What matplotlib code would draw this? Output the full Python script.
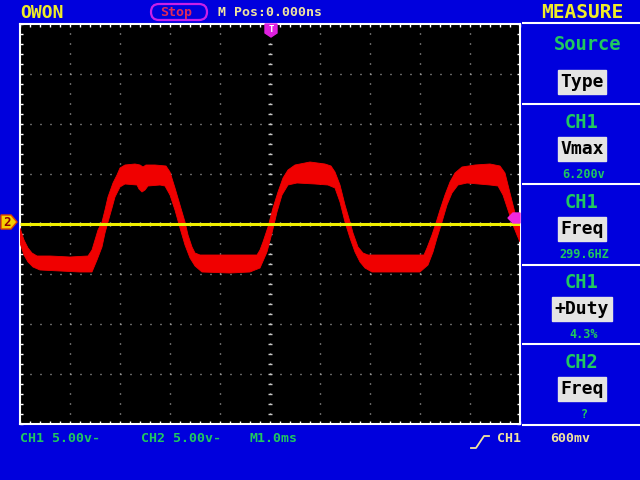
import numpy as np
import matplotlib
matplotlib.use("Agg")
import matplotlib.pyplot as plt
from matplotlib.patches import FancyBboxPatch, Rectangle

# ---------------------------------------------
# datos (ms, V)
# ---------------------------------------------
# CH1: borde superior e inferior de la traza (ruido incluido)
ch1_top = [
    (-5.00, -0.4), (-4.92, -1.6), (-4.84, -2.4), (-4.76, -2.9), (-4.66, -3.2), (-4.40, -3.2),
    (-4.00, -3.3), (-3.64, -3.2),
    (-3.56, -2.6), (-3.50, -1.6), (-3.44, -0.6), (-3.36, 0.2), (-3.30, 1.4), (-3.24, 2.7),
    (-3.14, 4.1), (-3.06, 4.9), (-3.00, 5.6), (-2.90, 5.9),
    (-2.70, 6.0), (-2.60, 5.9), (-2.54, 5.7), (-2.48, 5.9), (-2.30, 5.9), (-2.08, 5.8),
    (-2.00, 5.2), (-1.90, 3.6), (-1.80, 1.9), (-1.70, 0.2), (-1.64, -1.1), (-1.56, -2.3),
    (-1.50, -2.9), (-1.40, -3.1),
    (-1.00, -3.1), (-0.50, -3.1), (-0.26, -3.1),
    (-0.20, -2.6), (-0.14, -1.8), (-0.04, -0.3), (0.06, 1.6), (0.16, 3.2), (0.26, 4.6),
    (0.36, 5.4), (0.50, 5.9),
    (0.80, 6.2), (1.10, 6.0), (1.22, 5.8),
    (1.30, 5.2), (1.40, 3.9), (1.50, 1.9), (1.60, 0.2), (1.66, -0.9), (1.76, -2.3),
    (1.86, -2.9), (1.96, -3.1),
    (2.30, -3.1), (2.80, -3.1), (3.08, -3.1),
    (3.14, -2.4), (3.24, -1.1), (3.32, 0.1), (3.40, 1.4), (3.50, 2.9), (3.60, 4.2),
    (3.70, 5.1), (3.84, 5.7),
    (4.10, 5.9), (4.40, 6.0), (4.60, 5.8),
    (4.70, 5.1), (4.80, 3.1), (4.90, 1.1), (5.00, -0.2),
]
ch1_bottom = [
    (-5.00, -1.9), (-4.92, -3.1), (-4.84, -3.8), (-4.74, -4.3), (-4.60, -4.6), (-4.20, -4.7),
    (-3.80, -4.8), (-3.56, -4.8),
    (-3.46, -3.6), (-3.36, -2.3), (-3.30, -0.9), (-3.24, 0.2), (-3.16, 1.6), (-3.10, 2.7),
    (-3.00, 3.7), (-2.90, 4.0),
    (-2.66, 3.9), (-2.62, 3.5), (-2.56, 3.2), (-2.50, 3.4), (-2.44, 3.8), (-2.20, 3.9),
    (-2.10, 3.8), (-2.00, 2.9), (-1.90, 1.4), (-1.80, -0.4), (-1.70, -2.1), (-1.60, -3.4),
    (-1.50, -4.2), (-1.36, -4.8),
    (-0.80, -4.9), (-0.40, -4.8),
    (-0.20, -4.4), (-0.06, -2.8), (0.04, -0.9), (0.14, 1.2), (0.24, 2.9), (0.36, 3.9),
    (0.54, 4.1),
    (0.90, 4.0), (1.16, 3.9),
    (1.30, 3.6), (1.40, 2.2), (1.50, 0.2), (1.60, -1.4), (1.70, -2.8), (1.80, -3.8),
    (1.90, -4.4), (2.04, -4.8),
    (2.60, -4.8), (3.00, -4.8),
    (3.16, -4.1), (3.26, -2.8), (3.34, -1.4), (3.44, 0.2), (3.54, 1.9), (3.64, 3.1),
    (3.76, 3.9), (3.94, 4.1),
    (4.40, 3.9), (4.56, 3.8),
    (4.66, 2.9), (4.76, 1.4), (4.86, -0.1), (4.94, -1.1), (5.00, -1.8),
]

# CH2: linea plana
ch2_t = [-5.0, 5.0]
ch2_v = [0.05, 0.05]

# panel de medidas
meas_src = ["CH1", "CH1", "CH1", "CH2"]
meas_type = ["Vmax", "Freq", "+Duty", "Freq"]
meas_val = ["6.200v", "299.6HZ", "4.3%", "?"]

# textos de la barra inferior
ch1_scale = "CH1 5.00v-"
ch2_scale = "CH2 5.00v-"
timebase = "M1.0ms"
trig_src = "CH1"
trig_level = "600mv"

# ---------------------------------------------
# colores
# ---------------------------------------------
AZUL = "#0000DD"
ROJO = "#F00000"
AMARILLO = "#F0F000"
AMAR_TXT = "#F0EC28"
CREMA = "#F0E4A0"
VERDE = "#20C860"
GRIS = "#C8C8C8"
MAGENTA = "#E020E0"

FONT = "DejaVu Sans Mono"

fig = plt.figure(figsize=(6.4, 4.8), dpi=100, facecolor=AZUL)

# ---------------------------------------------
# pantalla
# ---------------------------------------------
ax = fig.add_axes([20 / 640, 56 / 480, 500 / 640, 400 / 480])
ax.set_facecolor("black")
ax.set_xlim(-5, 5)
ax.set_ylim(-20, 20)

for s in ax.spines.values():
    s.set_color("white")
    s.set_linewidth(1.5)

ax.set_xticks(np.arange(-5, 5.01, 1))
ax.set_yticks(np.arange(-20, 20.01, 5))
ax.set_xticks(np.arange(-5, 5.01, 0.2), minor=True)
ax.set_yticks(np.arange(-20, 20.01, 1), minor=True)
ax.tick_params(which="both", direction="in", length=2.3, width=1, color="white",
               top=True, right=True, labelbottom=False, labelleft=False)

# reticula punteada
for t in np.arange(-4, 4.01, 1):
    ax.plot([t, t], [-20, 20], color=GRIS, lw=1, dashes=(0.72, 6.48), zorder=1)
for v in np.arange(-15, 15.01, 5):
    ax.plot([-5, 5], [v, v], color=GRIS, lw=1, dashes=(0.72, 6.48), zorder=1)
# marcas del eje central
ax.plot(np.zeros(41), np.arange(-20, 20.01, 1), ls="none", marker="_", ms=3,
        mew=1, color=GRIS, zorder=1)
ax.plot(np.arange(-5, 5.01, 0.2), np.zeros(51), ls="none", marker="|", ms=3,
        mew=1, color=GRIS, zorder=1)

# CH1
top_t = [p[0] for p in ch1_top]
top_v = [p[1] for p in ch1_top]
bot_t = [p[0] for p in ch1_bottom]
bot_v = [p[1] for p in ch1_bottom]
ax.fill(top_t + bot_t[::-1], top_v + bot_v[::-1], color=ROJO, lw=0.6, zorder=3)

# CH2
ax.plot(ch2_t, ch2_v, color=AMARILLO, lw=2.2, zorder=4, solid_capstyle="butt")

# ---------------------------------------------
# capa de textos (coordenadas de pixel)
# ---------------------------------------------
ov = fig.add_axes([0, 0, 1, 1])
ov.set_xlim(0, 640)
ov.set_ylim(480, 0)
ov.axis("off")
ov.patch.set_alpha(0)

# barra superior
ov.text(20, 13, "OWON", color=AMAR_TXT, fontsize=13, fontweight="bold",
        family=FONT, ha="left", va="center")
ov.add_patch(FancyBboxPatch((151, 4), 56, 16, boxstyle="round,pad=0,rounding_size=8",
                            ec="#C820E8", fc="none", lw=1.6))
ov.text(176, 12.5, "Stop", color="#E0285A", fontsize=9.5, fontweight="bold",
        family=FONT, ha="center", va="center")
ov.text(218, 12.5, "M Pos:0.000ns", color=CREMA, fontsize=9.5, fontweight="bold",
        family=FONT, ha="left", va="center")

# marcador T
ov.fill([265, 277, 277, 271, 265], [24, 24, 33, 37, 33], color=MAGENTA, zorder=5)
ov.text(271, 29.5, "T", color="white", fontsize=6.5, fontweight="bold",
        family=FONT, ha="center", va="center", zorder=6)
# marcador canal 2
ov.fill([1, 11, 17, 11, 1], [215, 215, 222, 229, 229], fc="#F5D000", ec="#E04000",
        lw=1, zorder=5)
ov.text(7, 222, "2", color="#900000", fontsize=9, fontweight="bold",
        family=FONT, ha="center", va="center", zorder=6)
# marcador nivel de disparo
ov.fill([508, 513, 520, 520, 513], [218, 213, 213, 223, 223], color="#F028E0", zorder=5)

# panel derecho
ov.text(582, 12, "MEASURE", color=AMAR_TXT, fontsize=14, fontweight="bold",
        family=FONT, ha="center", va="center")
ov.hlines([22.5, 104, 184, 265, 344, 425], 522, 640, color="white", lw=1.5)

ov.text(588, 45, "Source", color=VERDE, fontsize=13.5, fontweight="bold",
        family=FONT, ha="center", va="center")
ov.add_patch(Rectangle((558, 70), 48, 24, color="#E4E4E4"))
ov.text(582, 82, "Type", color="black", fontsize=13, fontweight="bold",
        family=FONT, ha="center", va="center")

y0 = 104
for i in range(4):
    top = y0 + i * 80
    ov.text(581, top + 19, meas_src[i], color=VERDE, fontsize=13.5, fontweight="bold",
            family=FONT, ha="center", va="center")
    w = 48 if len(meas_type[i]) == 4 else 60
    ov.add_patch(Rectangle((582 - w / 2, top + 33), w, 24, color="#E4E4E4"))
    ov.text(582, top + 45, meas_type[i], color="black", fontsize=13, fontweight="bold",
            family=FONT, ha="center", va="center")
    ov.text(584, top + 71, meas_val[i], color=VERDE, fontsize=8.5, fontweight="bold",
            family=FONT, ha="center", va="center")

# barra inferior
ov.text(20, 439, ch1_scale, color=VERDE, fontsize=9.5, fontweight="bold",
        family=FONT, ha="left", va="center")
ov.text(141, 439, ch2_scale, color=VERDE, fontsize=9.5, fontweight="bold",
        family=FONT, ha="left", va="center")
ov.text(250, 439, timebase, color=VERDE, fontsize=9.5, fontweight="bold",
        family=FONT, ha="left", va="center")
ov.plot([471, 476, 484, 489], [448, 448, 436, 436], color=CREMA, lw=1.3)
ov.text(497, 439, trig_src, color=CREMA, fontsize=9.5, fontweight="bold",
        family=FONT, ha="left", va="center")
ov.text(550, 439, trig_level, color=CREMA, fontsize=9.5, fontweight="bold",
        family=FONT, ha="left", va="center")

fig.savefig("out.png", dpi=100, facecolor=AZUL)
